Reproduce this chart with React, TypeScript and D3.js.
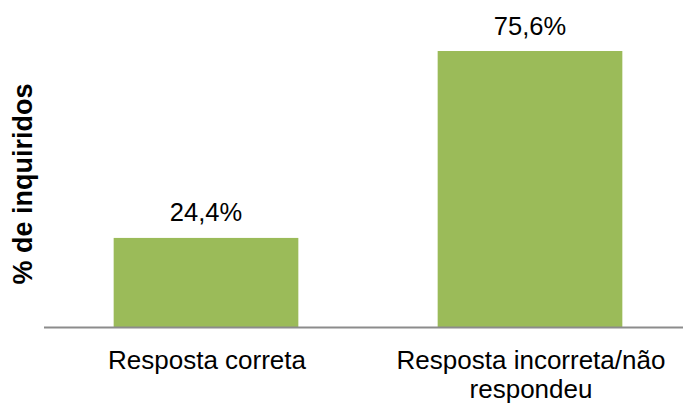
import React from "react";
import * as d3 from "d3";

const categories: string[][] = [["Resposta correta"], ["Resposta incorreta/não", "respondeu"]];
const values: number[] = [24.4, 75.6];
const valueLabels: string[] = ["24,4%", "75,6%"];
const yTitle = "% de inquiridos";

export default function App() {
  const W = 683, H = 405;
  const x = d3.scaleBand<number>().domain(values.map((_, i) => i)).range([44, 692]).paddingInner(0.43).paddingOuter(0.215);
  const y = d3.scaleLinear().domain([0, 75.6]).range([327, 51]);
  const font = "'Liberation Sans', Arial, sans-serif";
  return (
    <svg width={W} height={H} style={{ position: "absolute", left: 0, top: 0, background: "#fff" }}>
      {values.map((v, i) => (
        <rect key={i} x={x(i)!} y={y(v)} width={x.bandwidth()} height={y(0) - y(v)} fill="#9BBB59" />
      ))}
      <line x1={44} x2={683} y1={327.5} y2={327.5} stroke="#8C8C8C" strokeWidth={2} />
      {values.map((v, i) => (
        <text key={i} x={x(i)! + x.bandwidth() / 2} y={y(v) - 16.5} textAnchor="middle" fontFamily={font} fontSize={25.5} fill="#000">
          {valueLabels[i]}
        </text>
      ))}
      {categories.map((lines, i) => (
        <text key={i} x={x(i)! + x.bandwidth() / 2 + 1} y={369} textAnchor="middle" fontFamily={font} fontSize={26} fill="#000">
          {lines.map((l, j) => (
            <tspan key={j} x={x(i)! + x.bandwidth() / 2 + 1} dy={j === 0 ? 0 : 29}>{l}</tspan>
          ))}
        </text>
      ))}
      <text transform="translate(32,184) rotate(-90)" textAnchor="middle" fontFamily={font} fontSize={27} fontWeight="bold" fill="#000">
        {yTitle}
      </text>
    </svg>
  );
}
